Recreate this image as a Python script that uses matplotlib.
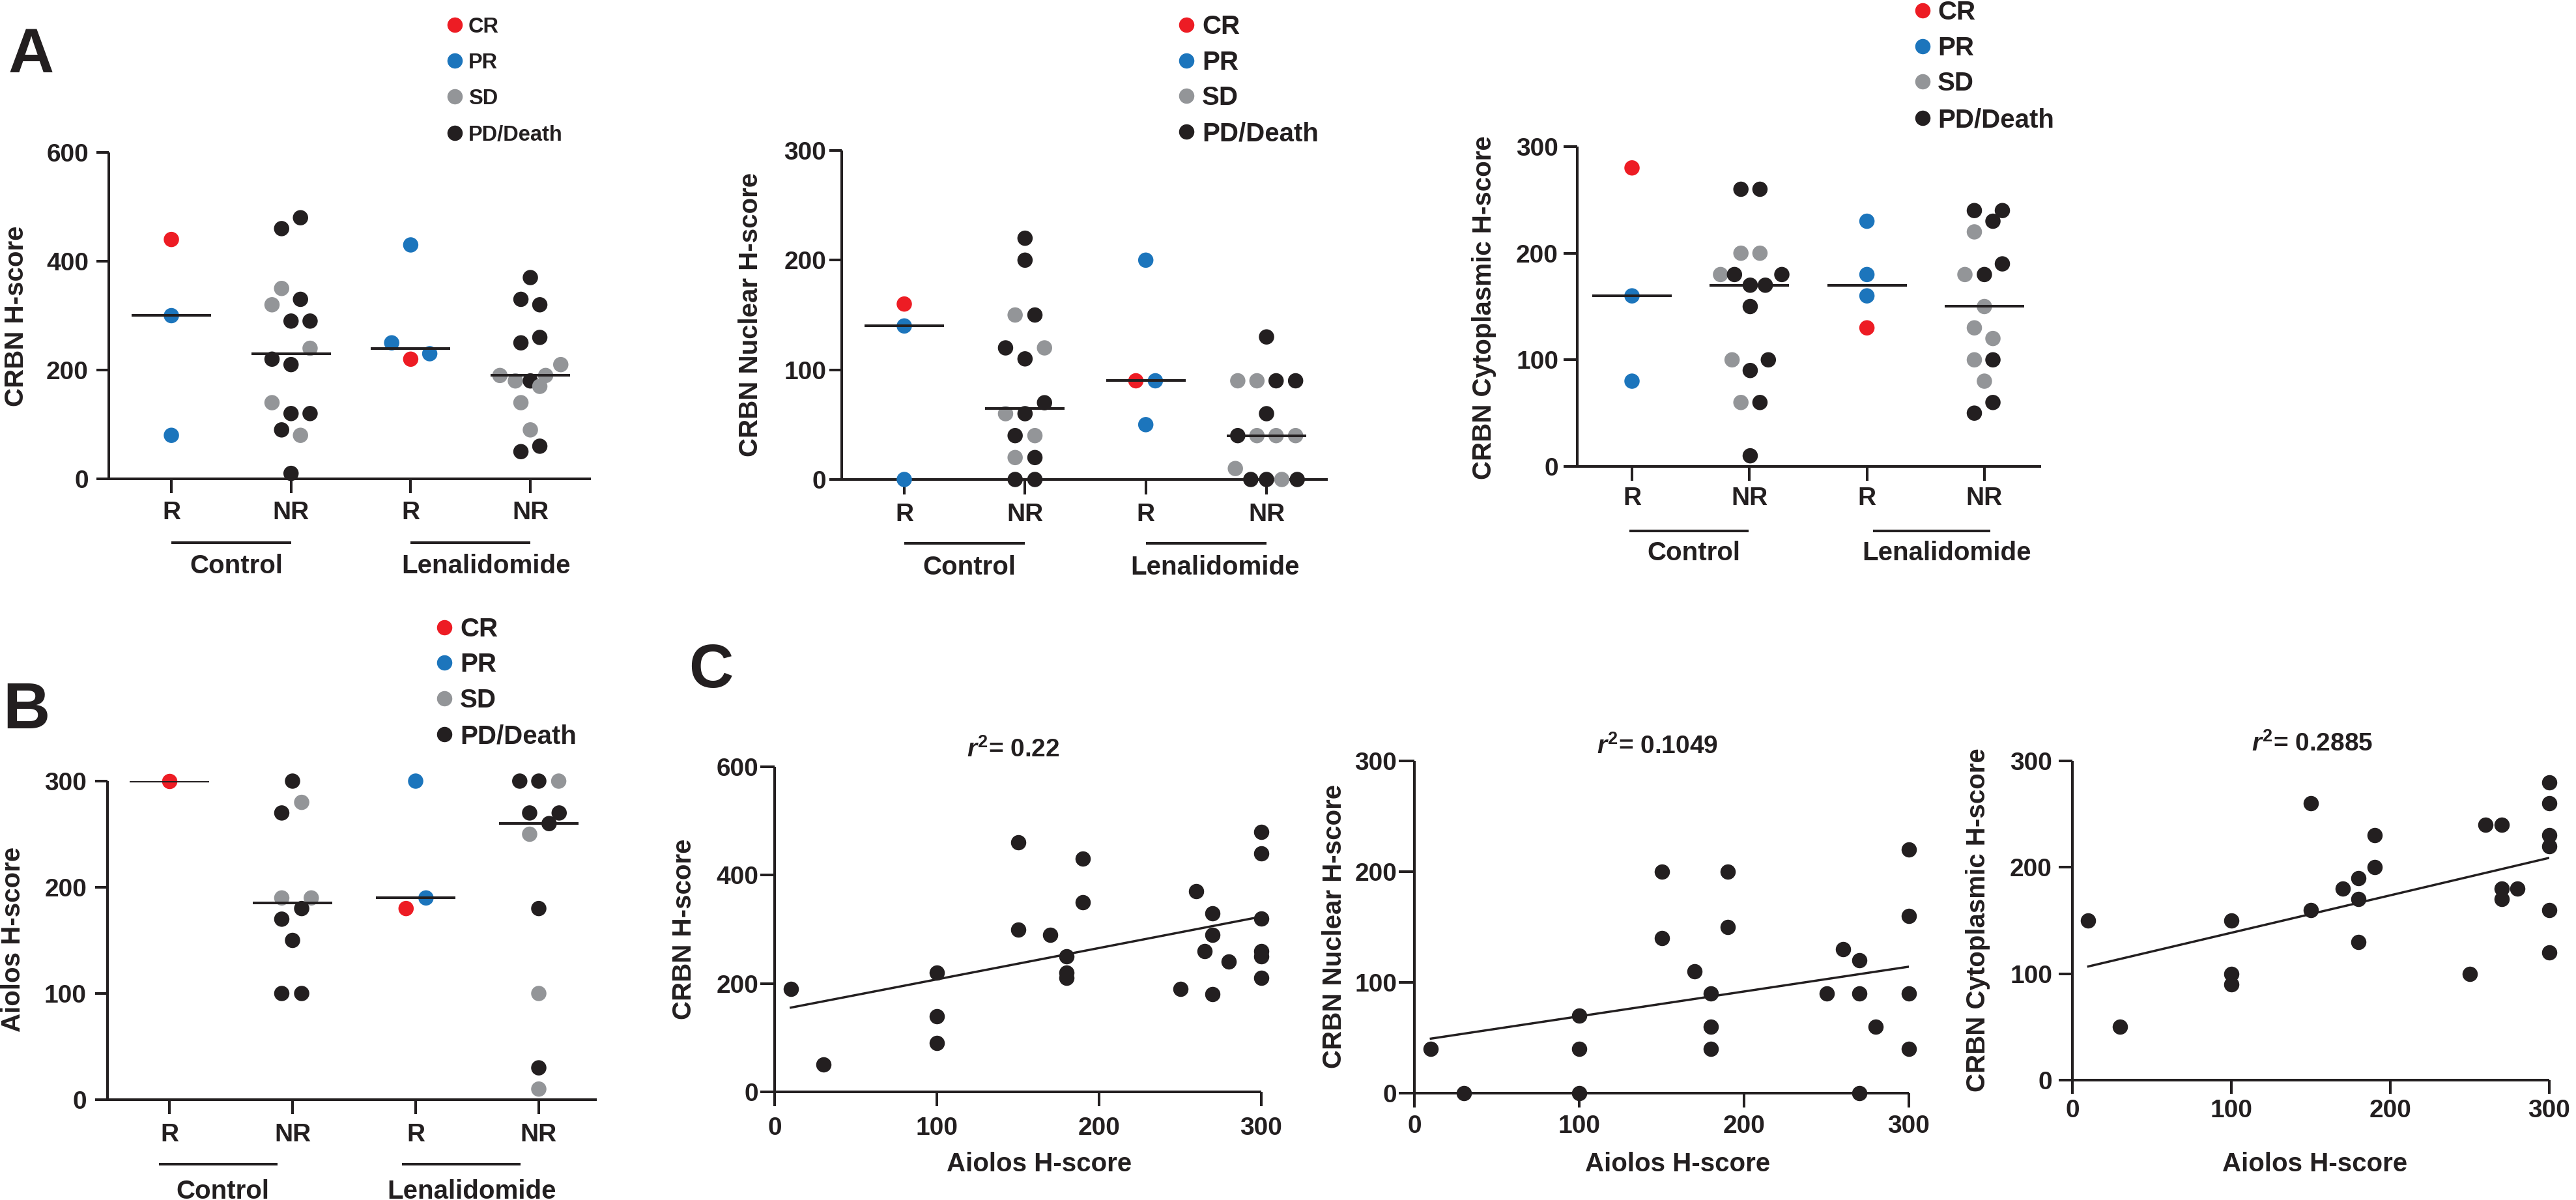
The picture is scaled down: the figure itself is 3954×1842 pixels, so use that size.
import numpy as np
import matplotlib
matplotlib.use("Agg")
import matplotlib.pyplot as plt
import matplotlib.transforms as mtransforms

plt.rcParams['font.family'] = ['Liberation Sans', 'DejaVu Sans']
plt.rcParams['font.weight'] = 'bold'
plt.rcParams['mathtext.fontset'] = 'custom'
plt.rcParams['mathtext.rm'] = 'Liberation Sans:bold'
plt.rcParams['mathtext.it'] = 'Liberation Sans:italic:bold'
plt.rcParams['mathtext.bf'] = 'Liberation Sans:bold'

# ------------------------------------------------------------------ data
categories = ['R', 'NR', 'R', 'NR']
group_names = ['Control', 'Lenalidomide']
responses = ['CR', 'PR', 'SD', 'PD']
response_names = ['CR', 'PR', 'SD', 'PD/Death']

# Panel A (left): CRBN H-score
crbn_ctrl_r = [440, 300, 80]
crbn_ctrl_r_resp = ['CR', 'PR', 'PR']
crbn_ctrl_nr = [460, 480, 350, 320, 330, 290, 290, 240, 220, 210, 140, 120, 120, 90, 80, 10]
crbn_ctrl_nr_resp = ['PD', 'PD', 'SD', 'SD', 'PD', 'PD', 'PD', 'SD', 'PD', 'PD', 'SD', 'PD', 'PD', 'PD', 'SD', 'PD']
crbn_len_r = [250, 220, 230, 430]
crbn_len_r_resp = ['PR', 'CR', 'PR', 'PR']
crbn_len_nr = [370, 330, 320, 260, 250, 210, 190, 190, 180, 180, 170, 140, 90, 60, 50]
crbn_len_nr_resp = ['PD', 'PD', 'PD', 'PD', 'PD', 'SD', 'SD', 'SD', 'SD', 'PD', 'SD', 'SD', 'SD', 'PD', 'PD']

# Panel A (middle): CRBN Nuclear H-score
nuc_ctrl_r = [160, 140, 0]
nuc_ctrl_r_resp = ['CR', 'PR', 'PR']
nuc_ctrl_nr = [220, 200, 150, 150, 120, 120, 110, 70, 60, 60, 40, 40, 20, 20, 0, 0]
nuc_ctrl_nr_resp = ['PD', 'PD', 'SD', 'PD', 'PD', 'SD', 'PD', 'PD', 'SD', 'PD', 'PD', 'SD', 'SD', 'PD', 'PD', 'PD']
nuc_len_r = [90, 90, 200, 50]
nuc_len_r_resp = ['CR', 'PR', 'PR', 'PR']
nuc_len_nr = [130, 90, 90, 90, 90, 60, 40, 40, 40, 40, 10, 0, 0, 0, 0]
nuc_len_nr_resp = ['PD', 'SD', 'SD', 'PD', 'PD', 'PD', 'PD', 'SD', 'SD', 'SD', 'SD', 'PD', 'PD', 'SD', 'PD']

# Panel A (right): CRBN Cytoplasmic H-score
cyto_ctrl_r = [280, 160, 80]
cyto_ctrl_r_resp = ['CR', 'PR', 'PR']
cyto_ctrl_nr = [260, 260, 200, 200, 180, 180, 180, 170, 170, 150, 100, 100, 90, 60, 60, 10]
cyto_ctrl_nr_resp = ['PD', 'PD', 'SD', 'SD', 'SD', 'PD', 'PD', 'PD', 'PD', 'PD', 'SD', 'PD', 'PD', 'SD', 'PD', 'PD']
cyto_len_r = [230, 180, 160, 130]
cyto_len_r_resp = ['PR', 'PR', 'PR', 'CR']
cyto_len_nr = [240, 240, 230, 220, 190, 180, 180, 150, 130, 120, 100, 100, 80, 60, 50]
cyto_len_nr_resp = ['PD', 'PD', 'PD', 'SD', 'PD', 'SD', 'PD', 'SD', 'SD', 'SD', 'SD', 'PD', 'SD', 'PD', 'PD']

# Panel B: Aiolos H-score
aio_ctrl_r = [300]
aio_ctrl_r_resp = ['CR']
aio_ctrl_nr = [300, 280, 270, 190, 190, 180, 170, 150, 100, 100]
aio_ctrl_nr_resp = ['PD', 'SD', 'PD', 'SD', 'SD', 'PD', 'PD', 'PD', 'PD', 'PD']
aio_len_r = [300, 180, 190]
aio_len_r_resp = ['PR', 'CR', 'PR']
aio_len_nr = [300, 300, 300, 270, 270, 260, 250, 180, 100, 30, 10]
aio_len_nr_resp = ['PD', 'PD', 'SD', 'PD', 'PD', 'PD', 'SD', 'PD', 'SD', 'PD', 'SD']

# horizontal scatter of dots inside a column (in dot diameters)
crbn_jitter = [[0, 0, 0],
               [-0.63, 0.63, -0.63, -1.27, 0.63, 0, 1.27, 1.27, -1.27, 0, -1.27, 0, 1.27, -0.63, 0.63, 0],
               [-1.27, 0, 1.27, 0],
               [0, -0.63, 0.63, 0.63, -0.63, 2.03, -2.03, 1.02, -1.0, 0, 0.63, -0.63, 0, 0.63, -0.63]]
nuc_jitter = [[0, 0, 0],
              [0, 0, -0.66, 0.66, -1.3, 1.3, 0, 1.3, -1.3, 0, -0.66, 0.66, -0.66, 0.66, -0.66, 0.66],
              [-0.66, 0.64, 0, 0],
              [0, -1.92, -0.64, 0.64, 1.94, 0, -1.92, -0.64, 0.64, 1.94, -2.08, -1.05, 0, 1.02, 2.05]]
cyto_jitter = [[0, 0, 0],
               [-0.57, 0.7, -0.57, 0.7, -1.93, -1.0, 2.16, 0.05, 1.06, 0.05, -1.16, 1.26, 0.05, -0.57, 0.7, 0.05],
               [0, 0, 0, 0],
               [-0.67, 1.2, 0.57, -0.67, 1.2, -1.3, 0, 0, -0.67, 0.57, -0.67, 0.57, 0, 0.57, -0.67]]
aio_jitter = [[0],
              [0, 0.61, -0.72, -0.72, 1.25, 0.61, -0.72, 0, -0.72, 0.61],
              [0, -0.64, 0.69],
              [-1.27, 0, 1.33, -0.61, 1.36, 0.69, -0.61, 0, 0, 0, 0]]

# Panel C: correlations with Aiolos H-score
c1_aiolos = [10, 30, 100, 100, 100, 150, 150, 170, 180, 180, 180, 190, 190, 250, 260, 265, 270, 270, 270, 280, 300, 300, 300, 300, 300, 300]
c1_crbn = [190, 50, 220, 140, 90, 460, 300, 290, 250, 220, 210, 430, 350, 190, 370, 260, 330, 290, 180, 240, 480, 440, 320, 260, 250, 210]
c2_aiolos = [10, 30, 100, 100, 100, 150, 150, 170, 180, 180, 180, 190, 190, 250, 260, 270, 270, 270, 280, 300, 300, 300, 300]
c2_nuclear = [40, 0, 70, 40, 0, 200, 140, 110, 90, 60, 40, 200, 150, 90, 130, 120, 90, 0, 60, 220, 160, 90, 40]
c3_aiolos = [10, 30, 100, 100, 100, 150, 150, 170, 180, 180, 180, 190, 190, 250, 260, 270, 270, 270, 280, 300, 300, 300, 300, 300, 300]
c3_cyto = [150, 50, 150, 100, 90, 260, 160, 180, 190, 170, 130, 230, 200, 100, 240, 240, 180, 170, 180, 280, 260, 230, 220, 160, 120]
# regression lines (slope, intercept) and r^2 as shown
c1_fit = (0.579, 149.7)
c2_fit = (0.224, 47.0)
c3_fit = (0.352, 103.3)
c1_r2 = '0.22'
c2_r2 = '0.1049'
c3_r2 = '0.2885'

# ------------------------------------------------------------------ style
W, H, DPI = 3954, 1842, 100
INK = '#231F20'
COLORS = {'CR': '#ED1C24', 'PR': '#1C75BC', 'SD': '#939598', 'PD': '#231F20'}
DOT_PX = 23.5
DOT_S = (DOT_PX * 0.72) ** 2
HALF_MED_PX = 61.0
LW = 2.9
PT = 0.72  # points per pixel at 100 dpi

fig = plt.figure(figsize=(W / DPI, H / DPI), dpi=DPI)
fig.patch.set_facecolor('white')


def rect(left, right, top, bottom):
    return [left / W, (H - bottom) / H, (right - left) / W, (bottom - top) / H]


def style(ax, ylen, ypad, xlen, xpad):
    for s in ['top', 'right']:
        ax.spines[s].set_visible(False)
    for s in ['left', 'bottom']:
        ax.spines[s].set_linewidth(LW)
        ax.spines[s].set_color(INK)
        ax.spines[s].set_capstyle('butt')
    ax.tick_params(axis='y', length=ylen * PT, width=LW, pad=ypad * PT,
                   labelsize=28, colors=INK, direction='out')
    ax.tick_params(axis='x', length=xlen * PT, width=LW, pad=xpad * PT,
                   labelsize=28, colors=INK, direction='out')
    ax.patch.set_alpha(0)


def dot_panel(box, xlim, ylim, yticks, cols, jitter, ticks):
    left, right, top, bottom = box
    ax = fig.add_axes(rect(left, right, top, bottom))
    ax.set_xlim(*xlim)
    ax.set_ylim(*ylim)
    du = (xlim[1] - xlim[0]) / (right - left)
    for i, ((vals, resp), off) in enumerate(zip(cols, jitter)):
        xs = [i + o * 23.0 * du for o in off]
        ax.scatter(xs, vals, s=DOT_S, c=[COLORS[r] for r in resp],
                   linewidths=0, clip_on=False, zorder=3)
        med = np.median(vals)
        ax.plot([i - HALF_MED_PX * du, i + HALF_MED_PX * du], [med, med],
                color=INK, lw=LW, solid_capstyle='butt', zorder=4)
    ax.set_xticks(range(len(categories)))
    ax.set_xticklabels(categories)
    ax.set_yticks(yticks)
    style(ax, *ticks)
    return ax


def scatter_panel(box, ylim, yticks, xs, ys, fit, ticks):
    left, right, top, bottom = box
    ax = fig.add_axes(rect(left, right, top, bottom))
    ax.set_xlim(0, 300)
    ax.set_ylim(*ylim)
    ax.scatter(xs, ys, s=DOT_S, color=INK, linewidths=0, clip_on=False, zorder=3)
    xl = np.array([min(xs), max(xs)], dtype=float)
    ax.plot(xl, fit[0] * xl + fit[1], color=INK, lw=2.5, zorder=4)
    ax.set_xticks([0, 100, 200, 300])
    ax.set_yticks(yticks)
    style(ax, *ticks)
    return ax


axA1 = dot_panel((167, 907, 234, 735), (-0.523, 3.506), (0, 600), [0, 200, 400, 600],
                 [(crbn_ctrl_r, crbn_ctrl_r_resp), (crbn_ctrl_nr, crbn_ctrl_nr_resp),
                  (crbn_len_r, crbn_len_r_resp), (crbn_len_nr, crbn_len_nr_resp)],
                 crbn_jitter, (19, 12, 22, 12))
axA2 = dot_panel((1292, 2038, 231, 736), (-0.518, 3.507), (0, 300), [0, 100, 200, 300],
                 [(nuc_ctrl_r, nuc_ctrl_r_resp), (nuc_ctrl_nr, nuc_ctrl_nr_resp),
                  (nuc_len_r, nuc_len_r_resp), (nuc_len_nr, nuc_len_nr_resp)],
                 nuc_jitter, (19, 4.5, 23, 13))
axA3 = dot_panel((2421, 3133, 225, 716), (-0.466, 3.483), (0, 300), [0, 100, 200, 300],
                 [(cyto_ctrl_r, cyto_ctrl_r_resp), (cyto_ctrl_nr, cyto_ctrl_nr_resp),
                  (cyto_len_r, cyto_len_r_resp), (cyto_len_nr, cyto_len_nr_resp)],
                 cyto_jitter, (21, 8, 22, 9))
axB = dot_panel((165, 916, 1199, 1688), (-0.503, 3.471), (0, 300), [0, 100, 200, 300],
                [(aio_ctrl_r, aio_ctrl_r_resp), (aio_ctrl_nr, aio_ctrl_nr_resp),
                 (aio_len_r, aio_len_r_resp), (aio_len_nr, aio_len_nr_resp)],
                aio_jitter, (19, 13, 22, 14))

axC1 = scatter_panel((1189, 1936, 1177, 1676), (0, 600), [0, 200, 400, 600],
                     c1_aiolos, c1_crbn, c1_fit, (22, 2.5, 22, 16))
axC2 = scatter_panel((2171, 2930, 1168, 1678), (0, 300), [0, 100, 200, 300],
                     c2_aiolos, c2_nuclear, c2_fit, (24, 2.5, 22, 11))
axC3 = scatter_panel((3181, 3913, 1168, 1658), (0, 300), [0, 100, 200, 300],
                     c3_aiolos, c3_cyto, c3_fit, (21, 10, 21, 8))

# ------------------------------------------------------------------ overlay (pixel coords)
ov = fig.add_axes([0, 0, 1, 1])
ov.set_xlim(0, W)
ov.set_ylim(H, 0)
ov.axis('off')
ov.patch.set_alpha(0)

FS_LAB = 29


def cap(fs):
    return 0.716 * fs / PT


# group underline bars (x from category positions) + group names
def groups(ax, ybar, spans, labels_x, baseline):
    tr = mtransforms.blended_transform_factory(ax.transData, ov.transData)
    for (x0, x1) in spans:
        ax.plot([x0, x1], [ybar, ybar], transform=tr, clip_on=False,
                color=INK, lw=LW, solid_capstyle='butt')
    for name, xc in zip(group_names, labels_x):
        ov.text(xc, baseline, name, fontsize=FS_LAB, ha='center', va='baseline', color=INK)


groups(axA1, 833, [(0, 1), (2, 3)], [363, 746], 880)
groups(axA2, 834, [(0, 1), (2, 3)], [1488, 1865], 882)
groups(axA3, 815, [(-0.02, 0.99), (2.05, 3.05)], [2600, 2988], 860)
groups(axB, 1787, [(-0.085, 0.88), (1.89, 2.85)], [342, 724], 1840)


# y labels
def ylab(x, y, text):
    ov.text(x, y, text, fontsize=FS_LAB, rotation=90, ha='center', va='center',
            rotation_mode='anchor', color=INK)


ylab(25, 485, 'CRBN H-score')
ylab(1152, 483, 'CRBN Nuclear H-score')
ylab(2278, 472, 'CRBN Cytoplasmic H-score')
ylab(20, 1442, 'Aiolos H-score')
ylab(1050, 1426, 'CRBN H-score')
ylab(2048, 1422, 'CRBN Nuclear H-score')
ylab(3036, 1412, 'CRBN Cytoplasmic H-score')

# x labels of C
for xc in (1595, 2575, 3553):
    ov.text(xc, 1798, 'Aiolos H-score', fontsize=FS_LAB, ha='center', va='baseline', color=INK)

# r^2 annotations
for xc, yb, r2 in ((1555, 1162, c1_r2), (2544, 1157, c2_r2), (3549, 1153, c3_r2)):
    ov.text(xc, yb, r'$r^{2}$= ' + r2, fontsize=28, ha='center', va='baseline', color=INK)


# legends
def legend(mx, tx, rows, fs):
    for key, name, y in zip(responses, response_names, rows):
        ov.scatter([mx], [y], s=DOT_S, color=COLORS[key], linewidths=0)
        ov.text(tx, y + cap(fs) / 2, name, fontsize=fs, ha='left', va='baseline', color=INK)


legend(698, 719, [38, 93, 148, 204], 23.5)
legend(1821, 1845, [38, 93, 147, 202], 29)
legend(2951, 2974, [16, 71, 125, 181], 29)
legend(682, 706, [963, 1017, 1072, 1127], 29)

# panel letters
ov.text(13, 111, 'A', fontsize=70, ha='left', va='baseline', color=INK)
ov.text(4, 1118, 'B', fontsize=72, ha='left', va='baseline', color=INK)
ov.text(1057, 1055, 'C', fontsize=68, ha='left', va='baseline', color=INK)

fig.savefig('out.png', dpi=DPI, facecolor='white')
